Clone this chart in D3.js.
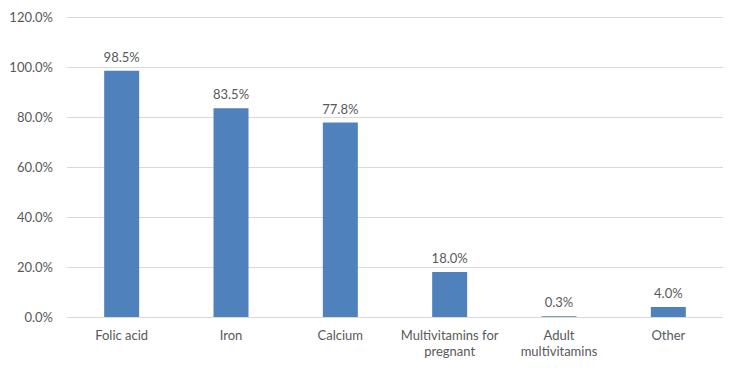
<!DOCTYPE html>
<html>
<head>
<meta charset="utf-8">
<script src="https://cdn.jsdelivr.net/npm/d3@7"></script>
<style>
  body { margin: 0; background: #fff; }
  svg text { font-family: Lato, "Open Sans", sans-serif; fill: #595959; }
</style>
</head>
<body>
<svg width="750" height="372"></svg>
<script>
var categories = ["Folic acid", "Iron", "Calcium", "Multivitamins for pregnant", "Adult multivitamins", "Other"];
var labelLines = [["Folic acid"], ["Iron"], ["Calcium"], ["Multivitamins for", "pregnant"], ["Adult", "multivitamins"], ["Other"]];
var values = [98.5, 83.5, 77.8, 18.0, 0.3, 4.0];
var yTicks = [0, 20, 40, 60, 80, 100, 120];

var svg = d3.select("svg");
var plotLeft = 67, plotRight = 723, plotTop = 17, plotBottom = 317;

var x = d3.scaleBand().domain(categories).range([plotLeft, plotRight]).paddingInner(0.68).paddingOuter(0.34);
var y = d3.scaleLinear().domain([0, 120]).range([plotBottom, plotTop]);

// gridlines
svg.append("g").selectAll("line")
    .data(yTicks)
    .enter().append("line")
    .attr("x1", plotLeft).attr("x2", plotRight)
    .attr("y1", function (d) { return Math.round(y(d)) + 0.5; })
    .attr("y2", function (d) { return Math.round(y(d)) + 0.5; })
    .style("stroke", "#d9d9d9").style("stroke-width", 1);

// y tick labels
svg.append("g").selectAll("text")
    .data(yTicks)
    .enter().append("text")
    .attr("x", 53)
    .attr("y", function (d) { return y(d); })
    .attr("dy", "0.35em")
    .attr("text-anchor", "end")
    .style("font-size", "13px")
    .text(function (d) { return d.toFixed(1) + "%"; });

// bars
svg.append("g").selectAll("rect")
    .data(values)
    .enter().append("rect")
    .attr("x", function (d, i) { return x(categories[i]); })
    .attr("width", x.bandwidth())
    .attr("y", function (d) { return y(d); })
    .attr("height", function (d) { return y(0) - y(d); })
    .style("fill", "#4f81bd");

// value labels
svg.append("g").selectAll("text")
    .data(values)
    .enter().append("text")
    .attr("x", function (d, i) { return x(categories[i]) + x.bandwidth() / 2; })
    .attr("y", function (d) { return y(d) - 9; })
    .attr("text-anchor", "middle")
    .style("font-size", "13px")
    .text(function (d) { return d.toFixed(1) + "%"; });

// category labels
var cat = svg.append("g").selectAll("text")
    .data(categories)
    .enter().append("text")
    .attr("x", function (d) { return x(d) + x.bandwidth() / 2; })
    .attr("y", 340)
    .attr("text-anchor", "middle")
    .style("font-size", "13px");

cat.each(function (d, i) {
    var t = d3.select(this);
    labelLines[i].forEach(function (line, j) {
        t.append("tspan")
            .attr("x", t.attr("x"))
            .attr("dy", j === 0 ? 0 : 16)
            .text(line);
    });
});
</script>
</body>
</html>
